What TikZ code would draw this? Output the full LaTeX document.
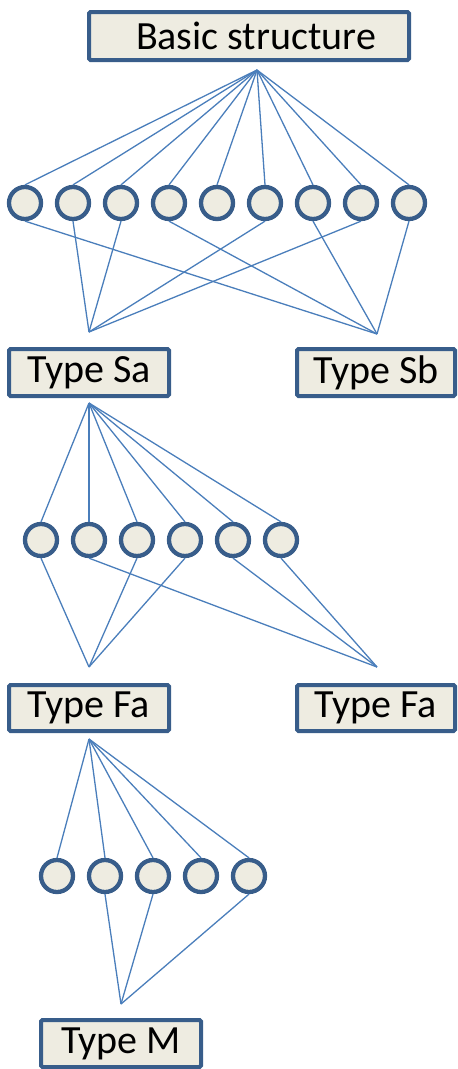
\documentclass[tikz,border=0pt]{standalone}
\usepackage{fontspec}
\setmainfont{Carlito}
\definecolor{bdr}{HTML}{385D8A}
\definecolor{lnc}{HTML}{4A7EBB}
\definecolor{fil}{HTML}{EEECE1}
\begin{document}
\begin{tikzpicture}[x=1pt,y=-1pt,
  box/.style={draw=bdr,fill=fil,line width=4pt,rounded corners=1.5pt,minimum height=47pt,inner sep=0pt,font=\fontsize{40}{48}\selectfont},
  dot/.style={circle,draw=bdr,fill=fil,line width=4.3pt,minimum size=32pt,inner sep=0pt},
  link/.style={draw=lnc,line width=1.3pt}]
\useasboundingbox (0,0) rectangle (458,1069);

% boxes
\node[box,minimum width=320pt,minimum height=48pt] (basic) at (249,36) {\hspace*{14pt}Basic structure};
\node[box,minimum width=160pt] (sa) at (89,372.5) {Type Sa};
\node[box,minimum width=158pt] (sb) at (376,372.5) {Type Sb};
\node[box,minimum width=160pt,minimum height=46pt] (fa1) at (89,708) {Type Fa};
\node[box,minimum width=158pt,minimum height=46pt] (fa2) at (376,708) {Type Fa};
\node[box,minimum width=160pt] (m) at (121,1043.5) {Type M};

% fan points
\coordinate (fb) at (257,70);
\coordinate (pa) at (89,332);
\coordinate (pb) at (377,334);
\coordinate (fs) at (89,403);
\coordinate (qa) at (89,667);
\coordinate (qb) at (377,667);
\coordinate (ff) at (89,739);
\coordinate (pm) at (121,1004);

% row 1
\foreach \i/\x in {1/25,2/73,3/121,4/169,5/217,6/265,7/313,8/361,9/409}
  \node[dot] (a\i) at (\x,203) {};
\foreach \i in {1,...,9} \draw[link] (fb) -- (a\i.north);
\foreach \i in {2,3,6,8} \draw[link] (a\i.south) -- (pa);
\foreach \i in {1,4,7,9} \draw[link] (a\i.south) -- (pb);

% row 2
\foreach \i/\x in {1/41,2/89,3/137,4/185,5/233,6/281}
  \node[dot] (b\i) at (\x,540) {};
\foreach \i in {1,...,6} \draw[link] (fs) -- (b\i.north);
\foreach \i in {1,3,4} \draw[link] (b\i.south) -- (qa);
\foreach \i in {2,5,6} \draw[link] (b\i.south) -- (qb);

% row 3
\foreach \i/\x in {1/57,2/105,3/153,4/201,5/249}
  \node[dot] (c\i) at (\x,876) {};
\foreach \i in {1,...,5} \draw[link] (ff) -- (c\i.north);
\foreach \i in {2,3,5} \draw[link] (c\i.south) -- (pm);
\end{tikzpicture}
\end{document}
